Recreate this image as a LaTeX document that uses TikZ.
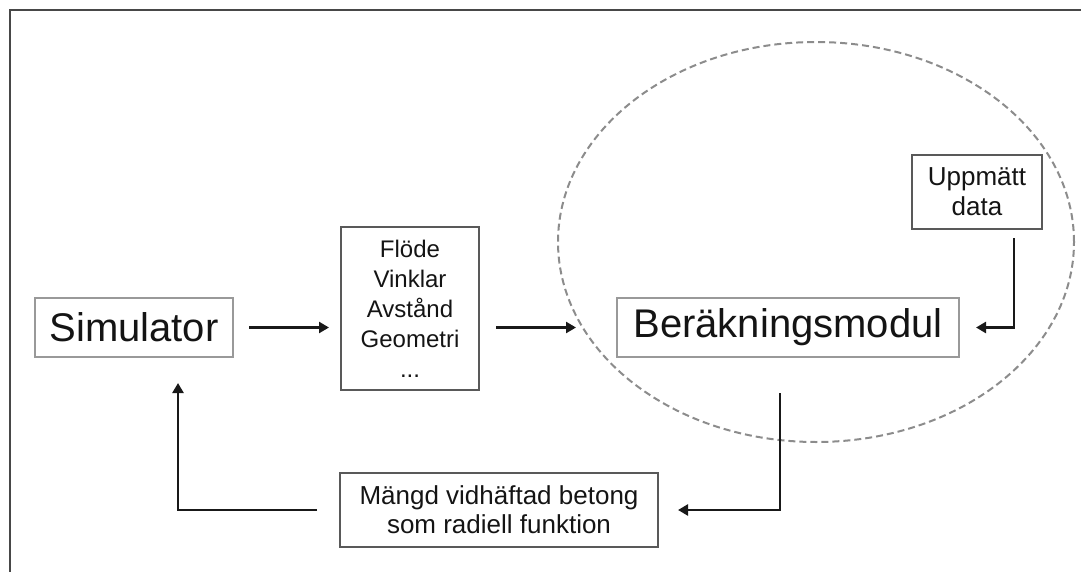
\documentclass[tikz,border=0pt]{standalone}
\usepackage{fontspec}
\setmainfont{Liberation Sans}
\usetikzlibrary{arrows.meta,shapes.geometric}

\begin{document}
\begin{tikzpicture}[x=1pt,y=-1pt,
  bigbox/.style={draw=black!40,line width=2pt,inner sep=0pt,
    font=\fontsize{40}{48}\selectfont,text=black!92},
  smallbox/.style={draw=black!65,line width=2pt,inner sep=0pt,align=center,
    text=black!92},
  arr/.style={draw=black!90,line width=2.6pt,-{Triangle[length=10pt,width=11pt]}},
  group/.style={ellipse,draw=black!45,line width=2pt,
    dash pattern=on 7pt off 4pt,inner sep=0pt}]
\useasboundingbox (0,0) rectangle (1081,572);

% outer frame (top and left edges only)
\draw[black!72,line width=2pt] (10,572) -- (10,10) -- (1081,10);

% grouping around the computation module
\node[group,minimum width=516pt,minimum height=400pt] (grp) at (816,242) {};

% blocks
\node[bigbox,minimum width=198pt,minimum height=59pt] (sim) at (134,327.5) {Simulator};
\node[smallbox,minimum width=138pt,minimum height=163pt,
  font=\fontsize{24}{30}\selectfont] (flo) at (410,308.5)
  {Flöde\\Vinklar\\Avstånd\\Geometri\\...};
\node[bigbox,minimum width=342pt,minimum height=59pt] (ber) at (788,327.5) {Beräkningsmodul};
\node[smallbox,minimum width=130pt,minimum height=74pt,
  font=\fontsize{26}{30}\selectfont] (upp) at (977,192) {Uppmätt\\data};
\node[smallbox,minimum width=318pt,minimum height=74pt,
  font=\fontsize{26}{29}\selectfont] (mang) at (499,510)
  {Mängd vidhäftad betong\\som radiell funktion};

% connectors
\draw[arr] ([xshift=15pt]sim.east) -- ([xshift=-11pt]sim.east -| flo.west);
\draw[arr] ([xshift=16pt]sim.east -| flo.east) -- ([xshift=-40pt]ber.west);
\draw[arr] ([xshift=37pt,yshift=-8pt]upp.south) |- ([xshift=16pt]ber.east);
\draw[arr] ([xshift=-8pt,yshift=-35pt]ber.south) |- ([xshift=19pt]mang.east);
\draw[arr] ([xshift=-22pt]mang.west) -| ([xshift=44pt,yshift=-25pt]sim.south);
\end{tikzpicture}
\end{document}
